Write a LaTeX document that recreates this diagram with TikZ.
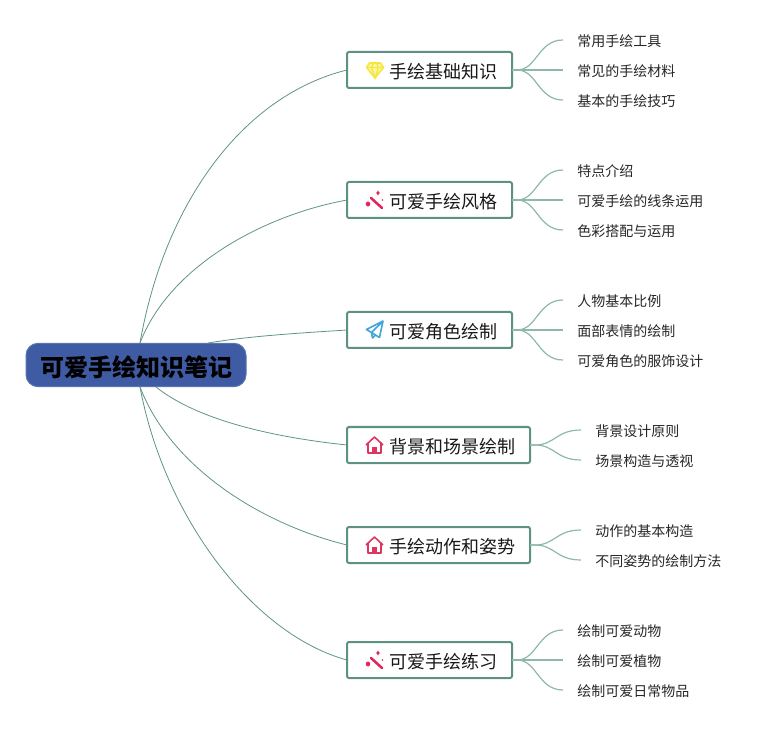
\documentclass[tikz,border=0pt]{standalone}
\usepackage{fontspec}
\setmainfont{Noto Sans CJK SC}
\usetikzlibrary{calc}
\definecolor{rootblue}{HTML}{3F5BA3}
\definecolor{rootedge}{HTML}{5A74B5}
\definecolor{boxgreen}{HTML}{5C9183}
\definecolor{mainline}{HTML}{5F9485}
\definecolor{leafline}{HTML}{8DB8AB}
\definecolor{gemyellow}{HTML}{F4E83C}
\definecolor{wandpink}{HTML}{E5245F}
\definecolor{planeblue}{HTML}{3FA5DC}
\definecolor{houseRed}{HTML}{DC3560}
\tikzset{
  rootnode/.style={draw=rootedge,fill=rootblue,rounded corners=9pt,line width=0.75pt,inner sep=0pt,minimum width=165pt,minimum height=32.5pt,font=\fontsize{18}{20}\selectfont\bfseries,text=black},
  topic/.style={draw=boxgreen,fill=white,line width=1.5pt,rounded corners=1.5pt,inner xsep=0pt,inner ysep=0pt,minimum height=27pt,anchor=west,outer sep=0pt,font=\fontsize{13.5}{16}\selectfont,text=black!90},
  leaf/.style={inner xsep=10.5pt,inner ysep=0pt,anchor=west,font=\fontsize{10.5}{13}\selectfont,text=black!85},
  mainlink/.style={draw=mainline,line width=0.6pt},
  leaflink/.style={draw=leafline,line width=0.9pt},
}
\newcommand{\topiclabel}[1]{\hspace*{31.5pt}\raisebox{-0.7pt}[\height][0pt]{#1}\hspace*{11.25pt}}
\newcommand{\gemicon}[2]{\begin{scope}[shift={(#1,#2)}]
  \draw[gemyellow,fill=gemyellow!45,line width=1.2pt,line join=round] (-5.5,-7)--(5.5,-7)--(8.5,-2.5)--(0,8)--(-8.5,-2.5)--cycle;
  \draw[gemyellow,line width=1pt] (-8.5,-2.5)--(8.5,-2.5) (-3.5,-2.5)--(0,8)--(3.5,-2.5) (-3.5,-2.5)--(-1.5,-7) (3.5,-2.5)--(1.5,-7);
\end{scope}}
\newcommand{\wandicon}[2]{\begin{scope}[shift={(#1,#2)}]
  \draw[wandpink,line width=1.9pt,line cap=round] (-4,-2)--(7,8);
  \fill[wandpink] (3,-7) circle (1.8) (-7,4) circle (2.3) (7.5,0) circle (0.9);
  \fill[wandpink] (3,-10)--(3.7,-7)--(3,-4)--(2.3,-7)--cycle (-7,0.5)--(-6.3,4)--(-7,7.5)--(-7.7,4)--cycle;
\end{scope}}
\newcommand{\planeicon}[2]{\begin{scope}[shift={(#1,#2)}]
  \draw[planeblue,line width=1.2pt,line join=round] (9,-9)--(-7.5,-0.5)--(-2.5,2.5)--(9,-9)--(5.5,7.5)--(-2.5,2.5)--(-1.5,8)--(1.5,5);
\end{scope}}
\newcommand{\houseicon}[2]{\begin{scope}[shift={(#1,#2)}]
  \draw[houseRed,line width=1.2pt,line join=round] (-8.5,0)--(0,-8)--(8.5,0) (-6.5,-1.5)--(-6.5,8)--(6.5,8)--(6.5,-1.5);
  \fill[houseRed] (-2.5,8) rectangle (2.5,1.5);
\end{scope}}
\begin{document}
\begin{tikzpicture}[x=0.75pt,y=-0.75pt]
\useasboundingbox (0,0) rectangle (781,730);
\node[rootnode] (root) at (136,365) {\raisebox{-0.8pt}[\height][0pt]{可爱手绘知识笔记}};
\coordinate (r1) at (140,343);
\coordinate (r2) at (140,343);
\coordinate (r3) at (208,343);
\coordinate (r4) at (156,387);
\coordinate (r5) at (140,387);
\coordinate (r6) at (140,387);
% topics
\node[topic] (t1) at (347,70) {\topiclabel{手绘基础知识}};
\node[topic] (t2) at (347,200) {\topiclabel{可爱手绘风格}};
\node[topic] (t3) at (347,330) {\topiclabel{可爱角色绘制}};
\node[topic] (t4) at (347,445) {\topiclabel{背景和场景绘制}};
\node[topic] (t5) at (347,545) {\topiclabel{手绘动作和姿势}};
\node[topic] (t6) at (347,660) {\topiclabel{可爱手绘练习}};
% leaves
\node[leaf] (a1) at (563,41) {常用手绘工具};
\node[leaf] (a2) at (563,71) {常见的手绘材料};
\node[leaf] (a3) at (563,101) {基本的手绘技巧};
\node[leaf] (b1) at (563,171) {特点介绍};
\node[leaf] (b2) at (563,201) {可爱手绘的线条运用};
\node[leaf] (b3) at (563,231) {色彩搭配与运用};
\node[leaf] (c1) at (563,301) {人物基本比例};
\node[leaf] (c2) at (563,331) {面部表情的绘制};
\node[leaf] (c3) at (563,361) {可爱角色的服饰设计};
\node[leaf] (d1) at (581,431) {背景设计原则};
\node[leaf] (d2) at (581,461) {场景构造与透视};
\node[leaf] (e1) at (581,531) {动作的基本构造};
\node[leaf] (e2) at (581,561) {不同姿势的绘制方法};
\node[leaf] (f1) at (563,631) {绘制可爱动物};
\node[leaf] (f2) at (563,661) {绘制可爱植物};
\node[leaf] (f3) at (563,691) {绘制可爱日常物品};
% main connectors
\draw[mainlink] (r1) .. controls (165,200) and (245,95) .. (t1.west);
\draw[mainlink] (r2) .. controls (170,265) and (265,215) .. (t2.west);
\draw[mainlink] (r3) .. controls (250,336) and (300,333) .. (t3.west);
\draw[mainlink] (r4) .. controls (200,422) and (280,438) .. (t4.west);
\draw[mainlink] (r5) .. controls (172,470) and (265,525) .. (t5.west);
\draw[mainlink] (r6) .. controls (165,520) and (255,635) .. (t6.west);
% leaf connectors
\foreach \t/\l/\dy in {t1/a1/-30,t1/a3/30,t2/b1/-30,t2/b3/30,t3/c1/-30,t3/c3/30,t6/f1/-30,t6/f3/30,t4/d1/-15,t4/d2/15,t5/e1/-15,t5/e2/15}{
  \draw[leaflink] (\t.east) -- ++(5,0) .. controls ($(\t.east)+(25,0)$) and ($(\t.east)+(26,\dy)$) .. ($(\l.west)+(0,-1)$);
}
\foreach \t/\l in {t1/a2,t2/b2,t3/c2,t6/f2}{
  \draw[leaflink] (\t.east) -- ($(\l.west)+(0,-1)$);
}
% icons
\gemicon{375}{70}
\wandicon{375}{200}
\planeicon{374}{330}
\houseicon{374.5}{445}
\houseicon{374.5}{545}
\wandicon{375}{660}
\end{tikzpicture}
\end{document}
